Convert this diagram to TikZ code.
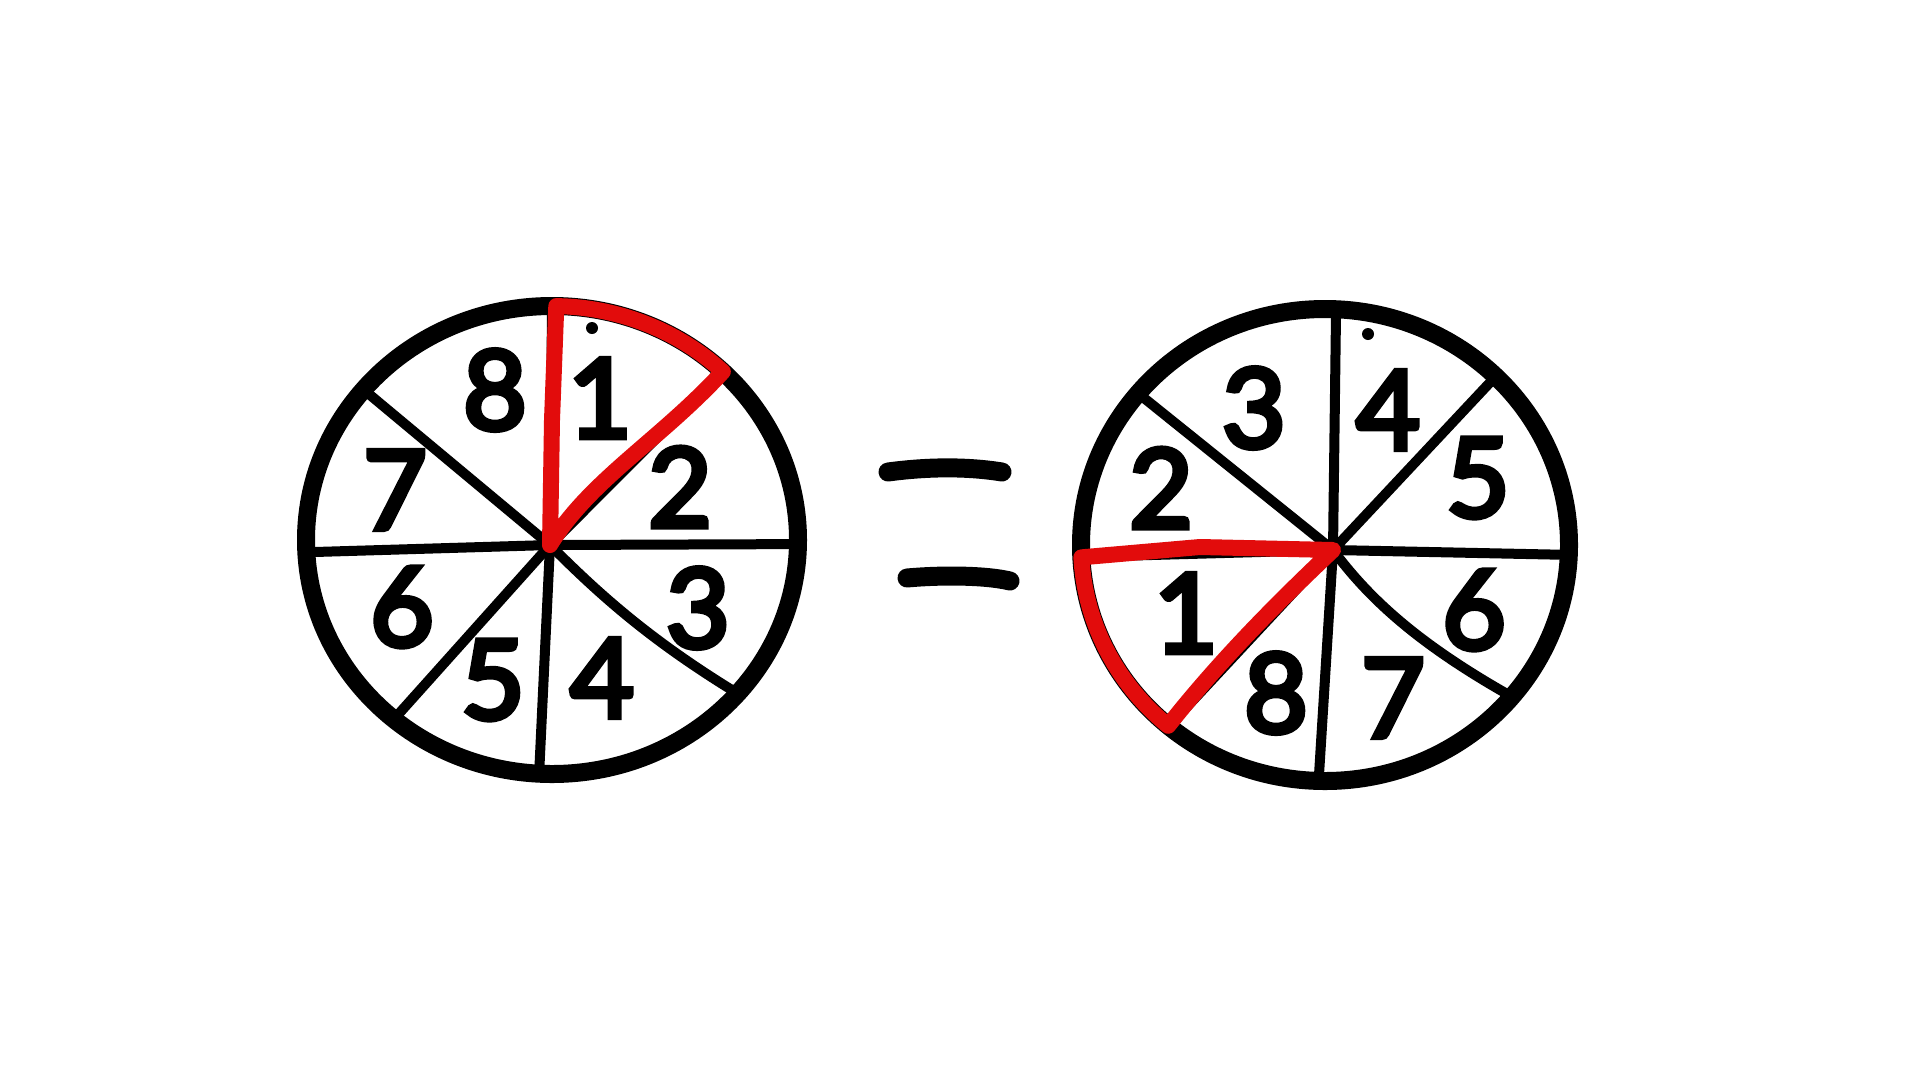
\documentclass[tikz,border=0pt]{standalone}
\usepackage{fontspec}
\newfontfamily\hand{Lato}[FakeBold=5]
\definecolor{redmark}{RGB}{226,12,12}
\begin{document}
\begin{tikzpicture}[x=1pt,y=-1pt,
  ring/.style={line width=18pt, line join=round},
  spoke/.style={line width=10pt, line cap=round},
  redline/.style={draw=redmark, line width=16pt, line join=round, line cap=round},
  num/.style={font=\hand\fontsize{110}{110}\selectfont, inner sep=0pt},
  bar/.style={line width=19pt, line cap=round}]
\useasboundingbox (0,0) rectangle (1920,1080);
\fill[white] (0,0) rectangle (1920,1080);

% ---------- left wheel ----------
\coordinate (cl) at (550,545);
\foreach \a in {90,46,-1,-93,-130,183,140}
  \draw[spoke] (cl) -- ({552+246*cos(\a)},{540-234*sin(\a)});
\draw[spoke] (cl) .. controls (600,595) and (650,640) .. ({552+246*cos(-41)},{540-234*sin(-41)});
\draw[ring] (552,540) ellipse [x radius=246, y radius=234];
\fill (592,328) circle (6);
\draw[redline] (cl) -- (552,420) -- ({552+246*cos(89)},{540-234*sin(89)})
  -- plot[domain=89:46, samples=20] ({552+246*cos(\x)},{540-234*sin(\x)})
  .. controls (660,440) and (590,480) .. cycle;
\node[num] (l8) at (495,390) {8};
\node[num] (l1) at (600,398) {1};
\node[num] (l2) at (680,487) {2};
\node[num] (l3) at (698,608) {3};
\node[num] (l4) at (602,678) {4};
\node[num] (l5) at (493,680) {5};
\node[num] (l6) at (402,607) {6};
\node[num] (l7) at (395,490) {7};

% ---------- equals sign ----------
\coordinate (e1a) at (888,472); \coordinate (e1b) at (1002,472);
\coordinate (e2a) at (907,578); \coordinate (e2b) at (1010,581);
\draw[bar] (e1a) .. controls (925,467) and (965,466) .. (e1b);
\draw[bar] (e2a) .. controls (940,575) and (985,575) .. (e2b);

% ---------- right wheel ----------
\coordinate (cr) at (1333,550);
\foreach \a in {87.4,45.6,-2.4,-91.5,-129.8,182.9,140}
  \draw[spoke] (cr) -- ({1325+244*cos(\a)},{545-236*sin(\a)});
\draw[spoke] (cr) .. controls (1370,600) and (1420,645) .. ({1325+244*cos(-40)},{545-236*sin(-40)});
\draw[ring] (1325,545) ellipse [x radius=244, y radius=236];
\fill (1368,334) circle (6);
\draw[redline] (cr) -- (1200,547) -- ({1325+244*cos(183)},{545-236*sin(183)})
  -- plot[domain=183:230, samples=20] ({1325+244*cos(\x)},{545-236*sin(\x)})
  .. controls (1220,660) and (1280,600) .. cycle;
\node[num] (r3) at (1254,408) {3};
\node[num] (r4) at (1388,410) {4};
\node[num] (r5) at (1478,478) {5};
\node[num] (r2) at (1161,488) {2};
\node[num] (r1) at (1186,613) {1};
\node[num] (r8) at (1276,693) {8};
\node[num] (r7) at (1393,698) {7};
\node[num] (r6) at (1474,610) {6};
\end{tikzpicture}
\end{document}
